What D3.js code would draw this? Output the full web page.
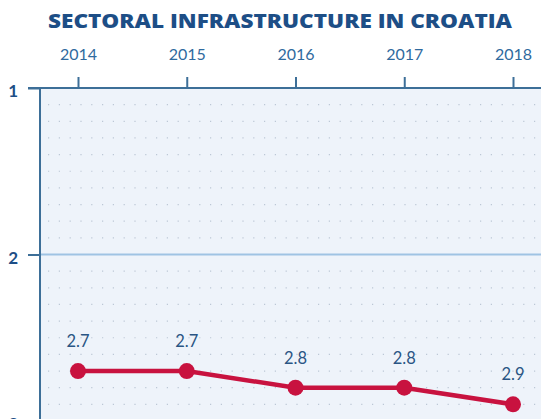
<!DOCTYPE html>
<html><head><meta charset="utf-8">
<script src="https://cdn.jsdelivr.net/npm/d3@7"></script>
<style>body{margin:0;background:#fff;}svg{display:block;}</style>
</head><body>
<svg id="chart" width="541" height="419"></svg>
<script>
const title = "SECTORAL INFRASTRUCTURE IN CROATIA";
const years = ["2014","2015","2016","2017","2018"];
const values = [2.7, 2.7, 2.8, 2.8, 2.9];
const valueLabels = ["2.7","2.7","2.8","2.8","2.9"];
const yTicks = [1, 2, 3];

(function(){
const svg = d3.select("#chart");
const W = 541, H = 419;
const mLeft = 40, mTop = 88;

const x = d3.scalePoint().domain(years).range([78, 513]);
const y = d3.scaleLinear().domain([1, 3]).range([88, 421]);

const axisColor = "#3d6f98";
const darkBlue = "#1d4e86";

// title
svg.append("text").attr("x", 280).attr("y", 28).attr("text-anchor", "middle")
  .attr("font-family", "Open Sans, sans-serif").attr("font-weight", 800)
  .attr("font-size", 19.5).attr("fill", darkBlue)
  .attr("textLength", 464).attr("lengthAdjust", "spacingAndGlyphs")
  .text(title);

// plot background
svg.append("rect").attr("x", mLeft).attr("y", mTop).attr("width", W - mLeft).attr("height", H - mTop)
  .attr("fill", "#eef3fa");

// dotted grid rows at 0.1 intervals
const gridVals = d3.range(11, 30).map(v => v / 10).filter(v => Math.abs(v - 2) > 1e-9);
svg.append("g").selectAll("line").data(gridVals).join("line")
  .attr("x1", mLeft + 8).attr("x2", W).attr("y1", d => y(d)).attr("y2", d => y(d))
  .attr("stroke", "#bcc7d5").attr("stroke-width", 1.2)
  .attr("stroke-dasharray", "1.2 9.6");

// solid gridline at 2
svg.append("line").attr("x1", mLeft).attr("x2", W).attr("y1", y(2)).attr("y2", y(2))
  .attr("stroke", "#9fc3e3").attr("stroke-width", 2);

// top axis
const xAxis = d3.axisTop(x).tickSize(11).tickPadding(17);
const gx = svg.append("g").attr("transform", `translate(0,${mTop})`).call(xAxis);
gx.select(".domain").remove();
gx.selectAll(".tick line").attr("stroke", axisColor).attr("stroke-width", 2);
gx.selectAll(".tick text").attr("fill", "#2f6a9e").attr("font-size", 16)
  .attr("font-family", "Lato, sans-serif");
svg.append("line").attr("x1", 28).attr("x2", W).attr("y1", mTop).attr("y2", mTop)
  .attr("stroke", axisColor).attr("stroke-width", 2);

// left axis
const yAxis = d3.axisLeft(y).tickValues(yTicks).tickSize(12).tickPadding(10).tickFormat(d3.format("d"));
const gy = svg.append("g").attr("transform", `translate(${mLeft},0)`).call(yAxis);
gy.select(".domain").remove();
gy.selectAll(".tick line").attr("stroke", axisColor).attr("stroke-width", 2);
gy.selectAll(".tick text").attr("fill", darkBlue).attr("font-size", 17).attr("font-weight", 700)
  .attr("font-family", "Lato, sans-serif").attr("dy", "0.5em");
svg.append("line").attr("x1", mLeft).attr("x2", mLeft).attr("y1", mTop - 1).attr("y2", H)
  .attr("stroke", axisColor).attr("stroke-width", 2);

// line
const pts = years.map((yr, i) => ({yr, v: values[i], lab: valueLabels[i]}));
svg.append("path").datum(pts)
  .attr("d", d3.line().x(d => x(d.yr)).y(d => y(d.v)))
  .attr("fill", "none").attr("stroke", "#c8123f").attr("stroke-width", 4.5);
svg.append("g").selectAll("circle").data(pts).join("circle")
  .attr("cx", d => x(d.yr)).attr("cy", d => y(d.v)).attr("r", 8)
  .attr("fill", "#c8123f");
svg.append("g").selectAll("text").data(pts).join("text")
  .attr("x", d => x(d.yr)).attr("y", d => y(d.v) - 24).attr("text-anchor", "middle")
  .attr("font-family", "Lato, sans-serif").attr("font-size", 16.5).attr("fill", "#2a5584")
  .text(d => d.lab);
})();
</script>
</body></html>
